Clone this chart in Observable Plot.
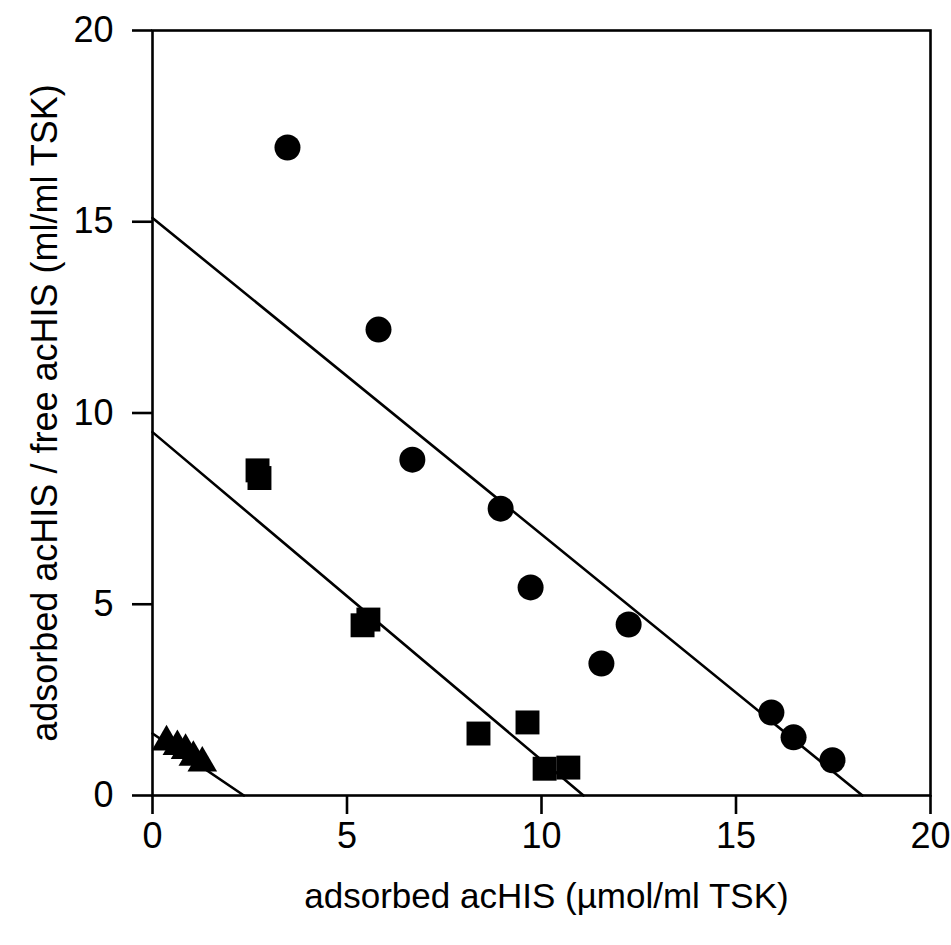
<!DOCTYPE html>
<html>
<head>
<meta charset="utf-8">
<script src="https://cdn.jsdelivr.net/npm/d3@7"></script>
<script src="https://cdn.jsdelivr.net/npm/@observablehq/plot@0.6"></script>
<style>
  html, body { margin: 0; padding: 0; background: #fff; }
  #chart svg { display: block; font-family: "Liberation Sans", Arial, sans-serif; }
</style>
</head>
<body>
<div id="chart"></div>
<script>
// Series: circles
const circleX = [3.47, 5.81, 6.68, 8.95, 9.72, 11.54, 12.24, 15.91, 16.48, 17.48];
const circleY = [16.94, 12.18, 8.78, 7.50, 5.44, 3.45, 4.47, 2.17, 1.52, 0.92];
// Series: squares
const squareX = [2.70, 2.75, 5.40, 5.55, 8.38, 9.64, 10.08, 10.69];
const squareY = [8.50, 8.30, 4.45, 4.60, 1.62, 1.91, 0.70, 0.73];
// Series: triangles
const triangleX = [0.36, 0.64, 0.85, 1.05, 1.28];
const triangleY = [1.40, 1.28, 1.18, 1.00, 0.85];
// Fitted lines (y-intercept, x-intercept)
const fitNames = ["circle", "square", "triangle"];
const fitYIntercept = [15.1, 9.5, 1.62];
const fitXIntercept = [18.25, 11.08, 2.35];
// Axis ticks and labels
const xTicks = [0, 5, 10, 15, 20];
const yTicks = [0, 5, 10, 15, 20];
const xLabel = "adsorbed acHIS (\u00b5mol/ml TSK)";
const yLabel = "adsorbed acHIS / free acHIS (ml/ml TSK)";

const circles = circleX.map((x, i) => ({x, y: circleY[i]}));
const squares = squareX.map((x, i) => ({x, y: squareY[i]}));
const triangles = triangleX.map((x, i) => ({x, y: triangleY[i]}));
const fitLines = fitNames.flatMap((name, i) => [
  {name, x: 0, y: fitYIntercept[i]},
  {name, x: fitXIntercept[i], y: 0}
]);

const chart = Plot.plot({
  width: 951,
  height: 945,
  marginLeft: 152,
  marginRight: 21,
  marginTop: 30,
  marginBottom: 150,
  style: {fontFamily: "'Liberation Sans', Arial, sans-serif", color: "#000", background: "#fff"},
  x: {domain: [0, 20]},
  y: {domain: [0, 20]},
  marks: [
    Plot.line(fitLines, {x: "x", y: "y", z: "name", stroke: "#000", strokeWidth: 2.6}),
    Plot.dot(circles, {x: "x", y: "y", r: 13, symbol: "circle", fill: "#000", stroke: "none"}),
    Plot.dot(squares, {x: "x", y: "y", r: 13.5, symbol: "square", fill: "#000", stroke: "none"}),
    Plot.dot(triangles, {x: "x", y: "y", r: 11, symbol: "triangle", fill: "#000", stroke: "none"}),
    Plot.frame({stroke: "#000", strokeWidth: 2.6}),
    Plot.axisX({ticks: xTicks, tickSize: 19, tickPadding: 8, fontSize: 36, strokeWidth: 2.6, label: null}),
    Plot.axisY({ticks: yTicks, tickSize: 20, tickPadding: 19, fontSize: 36, strokeWidth: 2.6, label: null}),
    Plot.text([xLabel], {text: d => d, frameAnchor: "bottom", dy: 112, dx: 5, fontSize: 35, fill: "#000", textAnchor: "middle"}),
    Plot.text([yLabel], {text: d => d, frameAnchor: "left", dx: -107, rotate: -90, fontSize: 36, fill: "#000", textAnchor: "middle"})
  ]
});
document.getElementById("chart").appendChild(chart);
</script>
</body>
</html>
